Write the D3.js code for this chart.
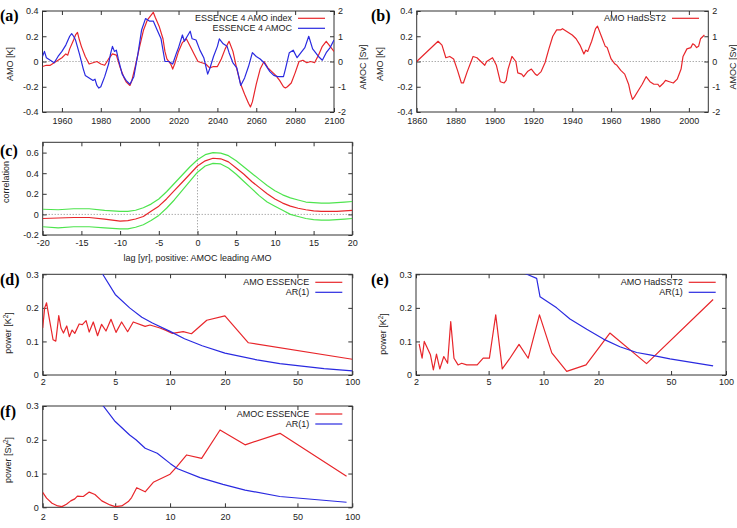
<!DOCTYPE html>
<html>
<head>
<meta charset="utf-8">
<script src="https://cdn.jsdelivr.net/npm/d3@7"></script>
<style>
body { margin: 0; background: #fff; }
text { font-family: "Liberation Sans", Arial, sans-serif; font-size: 9px; fill: #222; }
.plabel { font-family: "Liberation Serif", "DejaVu Serif", serif; font-weight: bold; font-size: 16px; fill: #000; }
</style>
</head>
<body>
<svg id="chart" width="737" height="528"></svg>
<script>
// (a) ESSENCE model: AMO index [K] and AMOC [Sv]
var essenceAmo = [[1950,-0.04],[1952,-0.03],[1954,-0.03],[1955,-0.02],[1957,0.0],[1959,0.02],[1960,0.03],[1962,0.06],[1963,0.05],[1964,0.10],[1966,0.17],[1967,0.21],[1968,0.23],[1969,0.17],[1970,0.12],[1972,0.04],[1974,-0.02],[1976,-0.01],[1978,0.0],[1980,-0.02],[1982,-0.03],[1984,0.02],[1986,0.06],[1988,0.05],[1990,-0.05],[1992,-0.13],[1993,-0.16],[1995,-0.19],[1996,-0.15],[1998,-0.02],[2000,0.12],[2002,0.25],[2004,0.33],[2006,0.37],[2007,0.39],[2008,0.35],[2010,0.28],[2012,0.18],[2013,0.08],[2014,0.02],[2016,-0.02],[2017,-0.06],[2018,-0.02],[2020,0.08],[2022,0.15],[2024,0.18],[2026,0.12],[2028,0.06],[2030,0.0],[2032,-0.01],[2034,-0.02],[2036,-0.05],[2038,-0.04],[2040,-0.04],[2042,0.02],[2044,0.10],[2046,0.16],[2048,0.08],[2050,-0.06],[2052,-0.18],[2054,-0.26],[2056,-0.33],[2057,-0.36],[2058,-0.32],[2060,-0.18],[2062,-0.06],[2064,0.0],[2066,-0.05],[2068,-0.08],[2070,-0.11],[2072,-0.15],[2074,-0.20],[2075,-0.21],[2076,-0.20],[2078,-0.17],[2080,-0.09],[2082,0.0],[2084,0.01],[2086,-0.01],[2088,0.0],[2090,-0.01],[2092,0.05],[2094,0.12],[2096,0.16],[2098,0.12],[2100,0.08]];
var essenceAmoc = [[1950,0.2],[1951,0.4],[1952,0.15],[1954,0.05],[1956,-0.05],[1958,0.2],[1960,0.4],[1962,0.65],[1964,1.0],[1965,1.1],[1966,1.0],[1967,0.85],[1969,0.3],[1971,-0.3],[1972,-0.55],[1974,-0.65],[1976,-0.75],[1977,-0.7],[1978,-0.95],[1979,-1.05],[1980,-1.0],[1982,-0.6],[1984,-0.1],[1985,0.3],[1986,0.6],[1987,0.4],[1988,0.45],[1989,0.1],[1991,-0.5],[1993,-0.75],[1995,-0.9],[1997,-0.6],[1999,0.25],[2001,1.25],[2003,1.7],[2005,1.6],[2007,1.6],[2009,1.25],[2011,0.9],[2013,0.0],[2015,0.0],[2017,-0.1],[2019,0.35],[2020,0.55],[2022,1.05],[2023,0.8],[2026,1.2],[2027,0.9],[2029,0.85],[2031,0.45],[2033,0.15],[2035,-0.5],[2036,-0.3],[2038,0.2],[2040,0.6],[2041,0.9],[2043,0.7],[2045,0.6],[2046,0.35],[2048,-0.05],[2050,-0.25],[2052,-0.95],[2054,-0.65],[2056,-0.2],[2058,0.35],[2060,0.2],[2062,0.1],[2064,-0.05],[2067,-0.4],[2069,-0.55],[2071,-0.6],[2074,-0.6],[2075,-0.3],[2077,0.35],[2079,0.45],[2081,0.15],[2083,0.35],[2085,0.55],[2087,1.0],[2089,0.5],[2092,0.2],[2094,0.05],[2096,0.35],[2098,0.55],[2100,0.85]];

// (b) observed AMO from HadSST2 [K]
var hadsstAmo = [[1860,0.0],[1871,0.16],[1873,0.13],[1875,0.03],[1877,0.04],[1879,0.02],[1881,-0.07],[1883,-0.17],[1884,-0.17],[1886,-0.08],[1888,0.0],[1889,0.04],[1891,0.03],[1893,0.0],[1895,-0.03],[1896,0.0],[1898,0.02],[1899,0.03],[1901,-0.03],[1903,-0.16],[1905,-0.17],[1906,-0.15],[1907,-0.06],[1909,0.04],[1911,0.0],[1912,-0.09],[1914,-0.10],[1915,-0.12],[1917,-0.08],[1919,-0.06],[1921,-0.10],[1922,-0.11],[1924,-0.08],[1926,-0.01],[1928,0.10],[1930,0.20],[1932,0.25],[1934,0.25],[1935,0.26],[1937,0.24],[1939,0.22],[1940,0.21],[1942,0.18],[1944,0.13],[1946,0.06],[1947,0.09],[1948,0.08],[1950,0.16],[1952,0.26],[1953,0.28],[1955,0.20],[1957,0.12],[1958,0.11],[1960,0.02],[1962,-0.02],[1963,-0.03],[1965,-0.07],[1967,-0.10],[1969,-0.18],[1970,-0.25],[1971,-0.30],[1972,-0.28],[1974,-0.23],[1976,-0.18],[1978,-0.12],[1980,-0.16],[1982,-0.18],[1984,-0.18],[1985,-0.20],[1987,-0.17],[1988,-0.15],[1990,-0.16],[1992,-0.17],[1994,-0.14],[1996,-0.06],[1997,0.04],[1999,0.10],[2001,0.11],[2002,0.14],[2003,0.13],[2004,0.11],[2005,0.12],[2006,0.18],[2008,0.21]];

// (c) lagged correlation AMOC vs AMO, with bounds
var lags = [-20,-18,-16,-14,-12,-10,-9,-8,-7,-6,-5,-4,-3,-2,-1,0,1,2,3,4,5,6,7,8,9,10,11,12,13,14,15,16,17,18,19,20];
var corrMean = [-0.04,-0.035,-0.03,-0.03,-0.045,-0.065,-0.06,-0.045,-0.02,0.03,0.08,0.15,0.23,0.31,0.39,0.47,0.52,0.545,0.54,0.51,0.45,0.39,0.32,0.26,0.20,0.15,0.11,0.08,0.06,0.045,0.035,0.03,0.03,0.03,0.035,0.04];
var corrUpper = [0.05,0.045,0.055,0.055,0.04,0.03,0.03,0.04,0.065,0.10,0.15,0.22,0.30,0.38,0.46,0.53,0.58,0.60,0.595,0.57,0.52,0.46,0.40,0.34,0.28,0.23,0.19,0.16,0.14,0.12,0.115,0.11,0.11,0.115,0.12,0.125];
var corrLower = [-0.12,-0.13,-0.12,-0.12,-0.13,-0.14,-0.14,-0.125,-0.10,-0.06,-0.01,0.06,0.14,0.23,0.32,0.41,0.47,0.495,0.49,0.45,0.39,0.32,0.25,0.18,0.12,0.08,0.04,0.0,-0.02,-0.04,-0.05,-0.055,-0.055,-0.05,-0.045,-0.04];

// (d) spectrum of ESSENCE AMO [K^2] vs period [yr]
var specEssAmo = [[2.0,0.14],[2.05,0.2],[2.1,0.215],[2.17,0.17],[2.28,0.105],[2.36,0.101],[2.45,0.177],[2.52,0.14],[2.6,0.125],[2.71,0.146],[2.8,0.114],[2.9,0.134],[3.0,0.124],[3.17,0.152],[3.3,0.15],[3.46,0.162],[3.6,0.128],[3.79,0.158],[4.0,0.117],[4.21,0.151],[4.45,0.131],[4.74,0.166],[5.05,0.127],[5.42,0.158],[5.85,0.129],[6.28,0.158],[7.3,0.145],[7.76,0.149],[8.8,0.14],[9.5,0.133],[10.3,0.124],[11.8,0.129],[13.1,0.123],[15.9,0.163],[20,0.176],[26.9,0.096],[100,0.047]];
var arEssAmo = [[4.0,0.33],[4.27,0.3],[5,0.24],[6,0.2],[7,0.172],[8,0.155],[10,0.13],[12,0.108],[15,0.087],[20,0.065],[30,0.045],[40,0.034],[50,0.028],[70,0.019],[100,0.012]];

// (e) spectrum of HadSST2 AMO [K^2]
var specHadAmo = [[2.08,0.093],[2.16,0.05],[2.22,0.1],[2.4,0.06],[2.49,0.015],[2.59,0.062],[2.7,0.018],[2.84,0.055],[2.98,0.035],[3.1,0.159],[3.23,0.05],[3.4,0.03],[3.56,0.035],[3.79,0.03],[4.33,0.03],[4.67,0.05],[5.05,0.05],[5.47,0.179],[5.94,0.018],[6.49,0.047],[7.34,0.091],[8.24,0.05],[9.5,0.179],[11.1,0.066],[13.4,0.011],[17.1,0.03],[23.1,0.125],[36.7,0.034],[85,0.225]];
var arHadAmo = [[6.5,0.32],[8.1,0.3],[9.17,0.288],[9.57,0.233],[11.8,0.2],[13.96,0.167],[17.25,0.136],[21.3,0.107],[26.2,0.084],[32.4,0.067],[38.3,0.06],[49.3,0.048],[85,0.027]];

// (f) spectrum of ESSENCE AMOC [Sv^2]
var specEssAmoc = [[2.0,0.044],[2.1,0.027],[2.25,0.012],[2.42,0.004],[2.55,0.002],[2.7,0.009],[2.85,0.019],[3.0,0.025],[3.1,0.033],[3.34,0.032],[3.6,0.045],[3.87,0.038],[4.22,0.019],[4.68,0.007],[4.99,0.002],[5.43,0.004],[5.9,0.017],[6.15,0.029],[6.56,0.058],[7.3,0.046],[8.09,0.074],[10.0,0.098],[10.87,0.12],[12.33,0.155],[14.9,0.145],[18.8,0.229],[25.8,0.185],[40.1,0.219],[93,0.092]];
var arEssAmoc = [[4.0,0.32],[4.3,0.3],[5,0.254],[6,0.214],[6.5,0.2],[7.3,0.175],[8.5,0.16],[10,0.13],[11,0.114],[14.6,0.088],[19.5,0.068],[25.8,0.051],[40,0.032],[93,0.015]];

var yearTicksA = [1960,1980,2000,2020,2040,2060,2080,2100];
var yearTicksB = [1860,1880,1900,1920,1940,1960,1980,2000];
var amoTicks = [-0.4,-0.2,0,0.2,0.4];
var amocTicks = [-2,-1,0,1,2];
var lagTicks = [-20,-15,-10,-5,0,5,10,15,20];
var corrTicks = [-0.2,0,0.2,0.4,0.6];
var periodTicks = [2,5,10,20,50,100];
var powerTicks = [0,0.1,0.2,0.3];

var RED = "#e8262b", BLUE = "#2a2ae0", GREEN = "#4ee44e";

var svg = d3.select("#chart");

function fmt1(d) { return d === 0 ? "0" : d.toFixed(1); }

function styleAxis(sel) {
    sel.select(".domain").remove();
    sel.selectAll(".tick line").attr("stroke", "#333");
    sel.selectAll("text").attr("font-family", null).attr("font-size", null).attr("fill", "#222");
}

// frame, inside ticks on all four sides, optional dotted zero lines
function makePanel(p) {
    var x = (p.log ? d3.scaleLog() : d3.scaleLinear()).domain(p.xDomain).range([p.left, p.right]);
    var y = d3.scaleLinear().domain(p.yDomain).range([p.bottom, p.top]);
    var g = svg.append("g");

    svg.append("clipPath").attr("id", "clip" + p.name)
        .append("rect")
        .attr("x", p.left).attr("y", p.top)
        .attr("width", p.right - p.left).attr("height", p.bottom - p.top);

    if (p.zeroY) {
        g.append("line")
            .attr("x1", p.left).attr("x2", p.right)
            .attr("y1", y(0)).attr("y2", y(0))
            .attr("stroke", "#888").attr("stroke-dasharray", "1,2");
    }
    if (p.zeroX) {
        g.append("line")
            .attr("x1", x(0)).attr("x2", x(0))
            .attr("y1", p.top).attr("y2", p.bottom)
            .attr("stroke", "#888").attr("stroke-dasharray", "1,2");
    }

    g.append("g").attr("transform", "translate(0," + p.bottom + ")")
        .call(d3.axisBottom(x).tickValues(p.xTicks).tickFormat(String).tickSize(-4).tickPadding(p.xPad))
        .call(styleAxis);
    g.append("g").attr("transform", "translate(0," + p.top + ")")
        .call(d3.axisTop(x).tickValues(p.xTicks).tickFormat("").tickSize(-4))
        .call(styleAxis);
    g.append("g").attr("transform", "translate(" + p.left + ",0)")
        .call(d3.axisLeft(y).tickValues(p.yTicks).tickFormat(fmt1).tickSize(-4).tickPadding(4))
        .call(styleAxis);

    var y2 = null;
    if (p.y2Domain) {
        y2 = d3.scaleLinear().domain(p.y2Domain).range([p.bottom, p.top]);
        g.append("g").attr("transform", "translate(" + p.right + ",0)")
            .call(d3.axisRight(y2).tickValues(p.y2Ticks).tickFormat(String).tickSize(-4).tickPadding(4))
            .call(styleAxis);
    } else {
        g.append("g").attr("transform", "translate(" + p.right + ",0)")
            .call(d3.axisRight(y).tickValues(p.yTicks).tickFormat("").tickSize(-4))
            .call(styleAxis);
    }

    g.append("rect")
        .attr("x", p.left).attr("y", p.top)
        .attr("width", p.right - p.left).attr("height", p.bottom - p.top)
        .attr("fill", "none").attr("stroke", "#333").attr("stroke-width", 1);

    svg.append("text").attr("class", "plabel")
        .attr("x", p.labelX).attr("y", p.labelY).text(p.label);

    return { g: g, x: x, y: y, y2: y2, clip: "url(#clip" + p.name + ")" };
}

function drawLine(panel, data, color, yScale) {
    var ys = yScale || panel.y;
    panel.g.append("path")
        .datum(data)
        .attr("clip-path", panel.clip)
        .attr("fill", "none")
        .attr("stroke", color)
        .attr("stroke-width", 1.2)
        .attr("stroke-linejoin", "round")
        .attr("d", d3.line().x(function(d) { return panel.x(d[0]); }).y(function(d) { return ys(d[1]); }));
}

function legendRow(textEnd, cy, label, color) {
    svg.append("text")
        .attr("x", textEnd).attr("y", cy).attr("dy", "0.35em")
        .attr("text-anchor", "end").text(label);
    svg.append("line")
        .attr("x1", textEnd + 6).attr("x2", textEnd + 33)
        .attr("y1", cy).attr("y2", cy)
        .attr("stroke", color).attr("stroke-width", 1.2);
}

// rotated axis title; "sup" text is raised as a superscript
function yLabel(cx, cy, before, sup, after) {
    var t = svg.append("text")
        .attr("transform", "translate(" + cx + "," + cy + ") rotate(-90)")
        .attr("text-anchor", "middle").attr("dy", "0.35em");
    t.append("tspan").text(before);
    if (sup) {
        t.append("tspan").attr("dy", "-0.45em").attr("font-size", "6.5px").text(sup);
        t.append("tspan").attr("dy", "0.45em").text(after);
    }
}

// ---- (a)
var pa = makePanel({ name: "a", left: 42.5, right: 334, top: 11, bottom: 112,
    xDomain: [1950, 2100], yDomain: [-0.4, 0.4], xTicks: yearTicksA, yTicks: amoTicks, xPad: 6,
    y2Domain: [-2, 2], y2Ticks: amocTicks, zeroY: true, label: "(a)", labelX: 0, labelY: 21 });
drawLine(pa, essenceAmo, RED);
drawLine(pa, essenceAmoc, BLUE, pa.y2);
legendRow(292, 18.3, "ESSENCE 4 AMO index", RED);
legendRow(292, 28.3, "ESSENCE 4 AMOC", BLUE);
yLabel(10, 64, "AMO [K]");
yLabel(362.5, 67, "AMOC [Sv]");

// ---- (b)
var pb = makePanel({ name: "b", left: 416.7, right: 708.3, top: 11, bottom: 112,
    xDomain: [1860, 2010], yDomain: [-0.4, 0.4], xTicks: yearTicksB, yTicks: amoTicks, xPad: 6,
    y2Domain: [-2, 2], y2Ticks: amocTicks, zeroY: true, label: "(b)", labelX: 371, labelY: 21 });
drawLine(pb, hadsstAmo, RED);
legendRow(666, 18.3, "AMO HadSST2", RED);
yLabel(380, 64, "AMO [K]");
yLabel(733, 67, "AMOC [Sv]");

// ---- (c)
var pc = makePanel({ name: "c", left: 42.7, right: 352.3, top: 142.3, bottom: 235,
    xDomain: [-20, 20], yDomain: [-0.2, 0.7], xTicks: lagTicks, yTicks: corrTicks, xPad: 5,
    zeroY: true, zeroX: true, label: "(c)", labelX: 0, labelY: 156 });
drawLine(pc, lags.map(function(l, i) { return [l, corrUpper[i]]; }), GREEN);
drawLine(pc, lags.map(function(l, i) { return [l, corrLower[i]]; }), GREEN);
drawLine(pc, lags.map(function(l, i) { return [l, corrMean[i]]; }), RED);
yLabel(6, 182, "correlation");
svg.append("text").attr("x", (42.7 + 352.3) / 2).attr("y", 258).attr("dy", "0.35em")
    .attr("text-anchor", "middle").text("lag [yr], positive: AMOC leading AMO");

// ---- (d)
var pd = makePanel({ name: "d", left: 42.7, right: 352.3, top: 274.3, bottom: 375, log: true,
    xDomain: [2, 100], yDomain: [0, 0.3], xTicks: periodTicks, yTicks: powerTicks, xPad: 4,
    label: "(d)", labelX: 0, labelY: 285 });
drawLine(pd, specEssAmo, RED);
drawLine(pd, arEssAmo, BLUE);
legendRow(309.3, 282.3, "AMO ESSENCE", RED);
legendRow(309.3, 292.3, "AR(1)", BLUE);
yLabel(8, 333, "power [K", "2", "]");

// ---- (e)
var pe = makePanel({ name: "e", left: 416, right: 726, top: 274.3, bottom: 375, log: true,
    xDomain: [2, 100], yDomain: [0, 0.3], xTicks: periodTicks, yTicks: powerTicks, xPad: 4,
    label: "(e)", labelX: 371, labelY: 285 });
drawLine(pe, specHadAmo, RED);
drawLine(pe, arHadAmo, BLUE);
legendRow(682.7, 282.3, "AMO HadSST2", RED);
legendRow(682.7, 292.3, "AR(1)", BLUE);
yLabel(383, 334, "power [K", "2", "]");

// ---- (f)
var pf = makePanel({ name: "f", left: 42.7, right: 352.3, top: 406, bottom: 507.3, log: true,
    xDomain: [2, 100], yDomain: [0, 0.3], xTicks: periodTicks, yTicks: powerTicks, xPad: 6,
    label: "(f)", labelX: 0, labelY: 417 });
drawLine(pf, specEssAmoc, RED);
drawLine(pf, arEssAmoc, BLUE);
legendRow(309.3, 414, "AMOC ESSENCE", RED);
legendRow(309.3, 424, "AR(1)", BLUE);
yLabel(8, 460, "power [Sv", "2", "]");
</script>
</body>
</html>
